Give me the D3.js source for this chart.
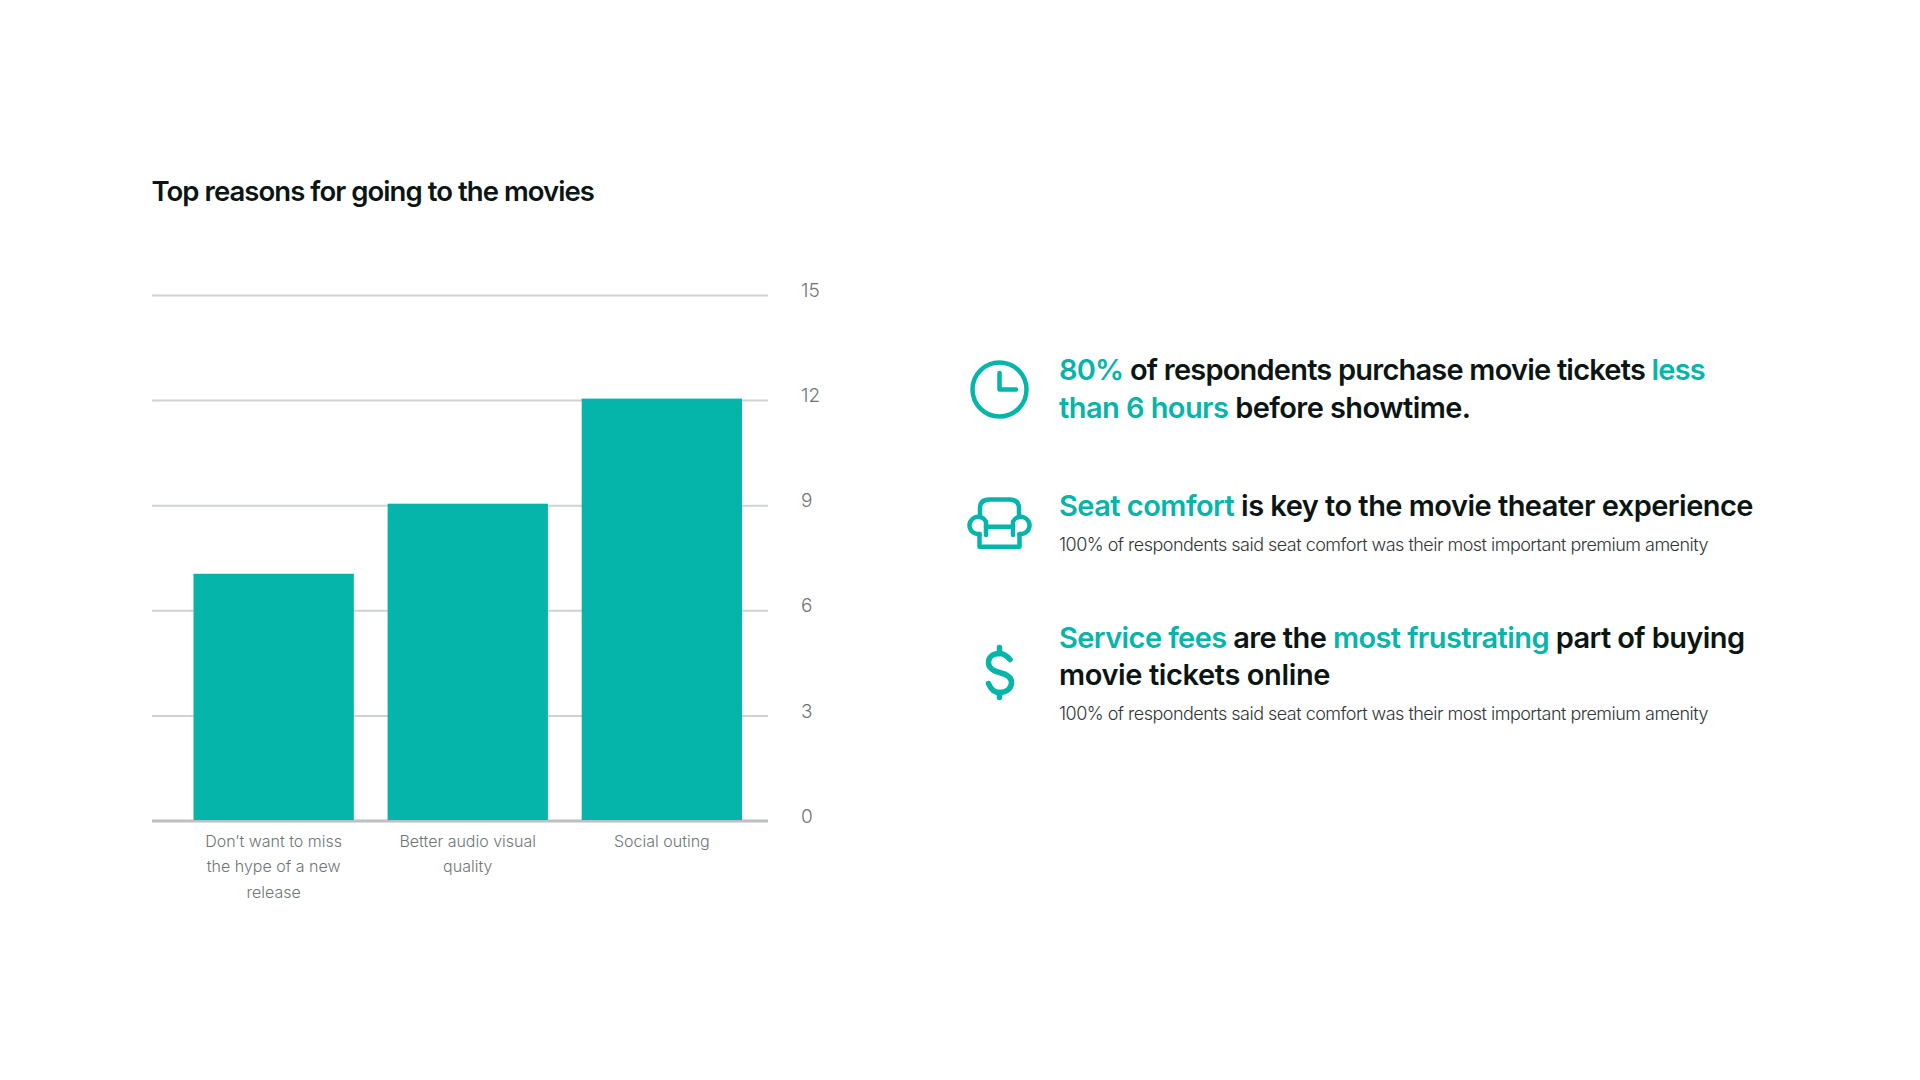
<!DOCTYPE html>
<html><head><meta charset="utf-8">
<script src="https://cdn.jsdelivr.net/npm/d3@7"></script>
<style>
html,body{margin:0;padding:0;background:#fff}
svg{display:block}
text{font-family:Inter,"Noto Sans",sans-serif}
</style></head><body><svg id="c" width="1920" height="1080"></svg>
<script>
const categories = [["Don’t want to miss","the hype of a new","release"],["Better audio visual","quality"],["Social outing"]];
const values = [7, 9, 12];
const tickValues = [0, 3, 6, 9, 12, 15];
const title = "Top reasons for going to the movies";
const teal = "#05b5aa", ink = "#0b1514", grey = "#6e7675", line = "#cfd2d2", axisLine = "#bcc0c0";
const headlines = [
  {y:[380,418], lines:[[["80%",1],[" of respondents purchase movie tickets ",0],["less",1]],[["than 6 hours",1],[" before showtime.",0]]], w:[646,411.5]},
  {y:[516], lines:[[["Seat comfort",1],[" is key to the movie theater experience",0]]], w:[694]},
  {y:[648,685], lines:[[["Service fees",1],[" are the ",0],["most frustrating",1],[" part of buying",0]],[["movie tickets online",0]]], w:[685.5,271]}
];
const notes = [{y:550.5,t:"100% of respondents said seat comfort was their most important premium amenity"},{y:719.5,t:"100% of respondents said seat comfort was their most important premium amenity"}];

const svg = d3.select("#c");
const y = d3.scaleLinear().domain([0,15]).range([820.5,295]);
const x = d3.scaleBand().domain(categories.map((d,i)=>i)).range([193.5,742]).paddingInner(0.174).paddingOuter(0);
const gridL = 152, gridR = 768, textX = 1059;

function fit(sel, target){
  sel.each(function(){
    const n = this.getNumberOfChars();
    const w = this.getComputedTextLength();
    d3.select(this).style("letter-spacing",((target-w)/n)+"px");
  });
}
svg.append("text").attr("x",gridL-0.5).attr("y",201).attr("font-size",27.5).attr("font-weight",600).attr("fill",ink).text(title).call(fit,442.5);

const axis = d3.axisRight(y).tickValues(tickValues).tickSize(gridR-gridL).tickPadding(0).tickFormat(d3.format("d"));
const g = svg.append("g").attr("transform",`translate(${gridL},0)`).call(axis);
g.select(".domain").remove();
g.selectAll(".tick line").attr("stroke",d=>d===0?axisLine:line).attr("stroke-width",d=>d===0?3:2);
g.selectAll(".tick text").attr("x",gridR-gridL+33).attr("dy","0").attr("transform","translate(0,-3.5)")
  .attr("font-size",19).attr("font-weight",300).attr("fill",grey).style("font-family","Inter").attr("dominant-baseline","middle").attr("text-anchor","start");

svg.selectAll("rect.bar").data(values).join("rect").attr("class","bar")
  .attr("x",(d,i)=>x(i)).attr("width",x.bandwidth()).attr("y",d=>y(d)-1.5).attr("height",d=>y(0)-y(d)+1).attr("fill",teal);

categories.forEach((ls,i)=>{
  ls.forEach((t,j)=>{
    svg.append("text").attr("x",x(i)+x.bandwidth()/2).attr("y",846.5+j*25.7).attr("text-anchor","middle")
      .attr("font-size",16).attr("font-weight",300).attr("fill",grey).text(t);
  });
});

headlines.forEach(h=>{
  h.lines.forEach((segs,li)=>{
    const t = svg.append("text").attr("x",textX).attr("y",h.y[li]).attr("font-size",29).attr("font-weight",600).attr("fill",ink).style("white-space","pre");
    segs.forEach(s=>t.append("tspan").attr("fill",s[1]?teal:ink).text(s[0]));
    t.call(fit,h.w[li]);
  });
});
notes.forEach(n=>{
  svg.append("text").attr("x",textX).attr("y",n.y).attr("font-size",18).attr("font-weight",300).attr("fill","#2f3736").text(n.t).call(fit,649);
});

// icons
const ic = svg.append("g").attr("fill","none").attr("stroke",teal).attr("stroke-width",4.5).attr("stroke-linecap","round").attr("stroke-linejoin","round");
const c1 = ic.append("g").attr("transform","translate(999.5,389.5)");
c1.append("circle").attr("r",27);
c1.append("path").attr("d","M0,-16.5V0H16.5");
const c2 = ic.append("g").attr("transform","translate(999.5,523.5)");
c2.append("path").attr("d","M-19.5,-8V-15Q-19.5,-24,-10,-24H10Q19.5,-24,19.5,-15V-8");
c2.append("path").attr("d","M-20,10.5A8.7,8.7,0,1,1,-13.5,-2V11.5M20,10.5A8.7,8.7,0,1,0,13.5,-2V11.5");
c2.append("path").attr("d","M-13.5,3.3H13.5");
c2.append("path").attr("d","M-20,10.5V23.3H20V10.5");
const c3 = ic.append("g").attr("transform","translate(999.5,672.5)").attr("stroke-width",5.5);
c3.append("path").attr("d","M10.5,-13C7,-17,4,-19,0,-19C-7,-19,-11,-15,-11,-10C-11,-3,-4,-1,0,0C6,1.5,12,4,12,10C12,16,7,20,0,20C-5,20,-9,16,-11,11");
c3.append("path").attr("d","M0,-25V-19M0,20V25");
</script></body></html>
